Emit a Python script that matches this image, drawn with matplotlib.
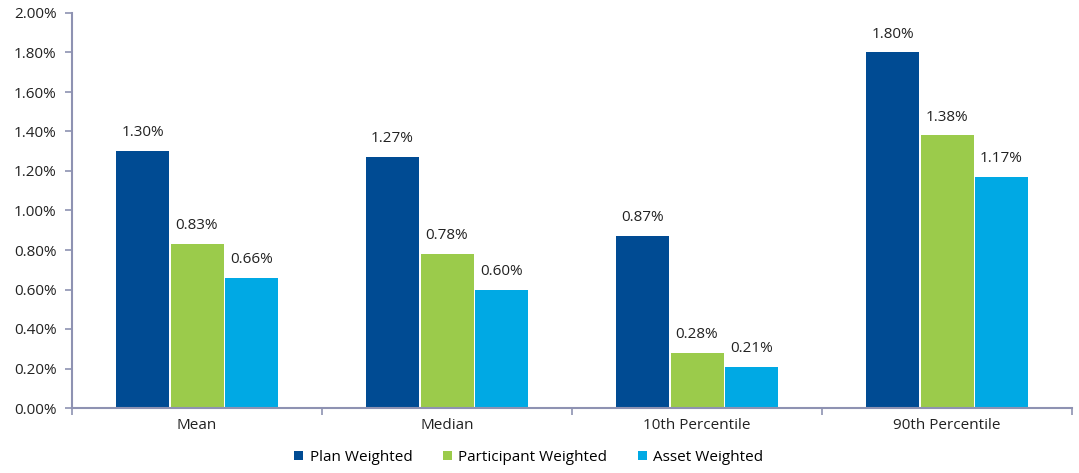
import numpy as np
import matplotlib.pyplot as plt

plt.rcParams['font.family'] = ['Open Sans', 'DejaVu Sans']

categories = ["Mean", "Median", "10th Percentile", "90th Percentile"]
series_names = ["Plan Weighted", "Participant Weighted", "Asset Weighted"]
plan = [1.30, 1.27, 0.87, 1.80]
participant = [0.83, 0.78, 0.28, 1.38]
asset = [0.66, 0.60, 0.21, 1.17]
colors = ["#004B93", "#9BCB4B", "#00A9E4"]
axis_color = "#8E92B2"

fig = plt.figure(figsize=(10.79, 4.73), dpi=100)
ax = fig.add_axes([72 / 1079, 1 - 408 / 473, 1000 / 1079, 395 / 473])

x = np.arange(len(categories))
w = 0.218
for i, (vals, name, c) in enumerate(zip([plan, participant, asset], series_names, colors)):
    pos = x + (i - 1) * w
    ax.bar(pos, vals, width=w - 0.006, color=c, label=name)
    for p, v in zip(pos, vals):
        ax.text(p, v + 0.055, f"{v:.2f}%", ha="center", va="bottom", fontsize=11, color="#222222")

ax.set_xlim(-0.5, len(categories) - 0.5)
ax.set_ylim(0, 2.0)
ax.set_yticks(np.arange(0, 2.01, 0.2))
ax.set_yticklabels([f"{t:.2f}%" for t in np.arange(0, 2.01, 0.2)])
ax.set_xticks(x)
ax.set_xticklabels(categories)
ax.set_xticks(np.arange(-0.5, len(categories), 1), minor=True)
ax.tick_params(axis="x", which="major", length=0, pad=7)
ax.tick_params(axis="x", which="minor", length=5, color=axis_color, width=1.2)
ax.tick_params(axis="y", length=5, color=axis_color, width=1.2, pad=6)
ax.tick_params(labelsize=11, labelcolor="#222222")

for s in ["top", "right"]:
    ax.spines[s].set_visible(False)
for s in ["left", "bottom"]:
    ax.spines[s].set_color(axis_color)
    ax.spines[s].set_linewidth(1.5)

handles, labels = ax.get_legend_handles_labels()
fig.legend(handles, labels, loc="lower center", bbox_to_anchor=(0.49, -0.012), ncol=3,
           frameon=False, fontsize=11, handlelength=0.6, handleheight=0.6,
           handletextpad=0.4, columnspacing=2.0)

fig.savefig("out.png", dpi=100)
